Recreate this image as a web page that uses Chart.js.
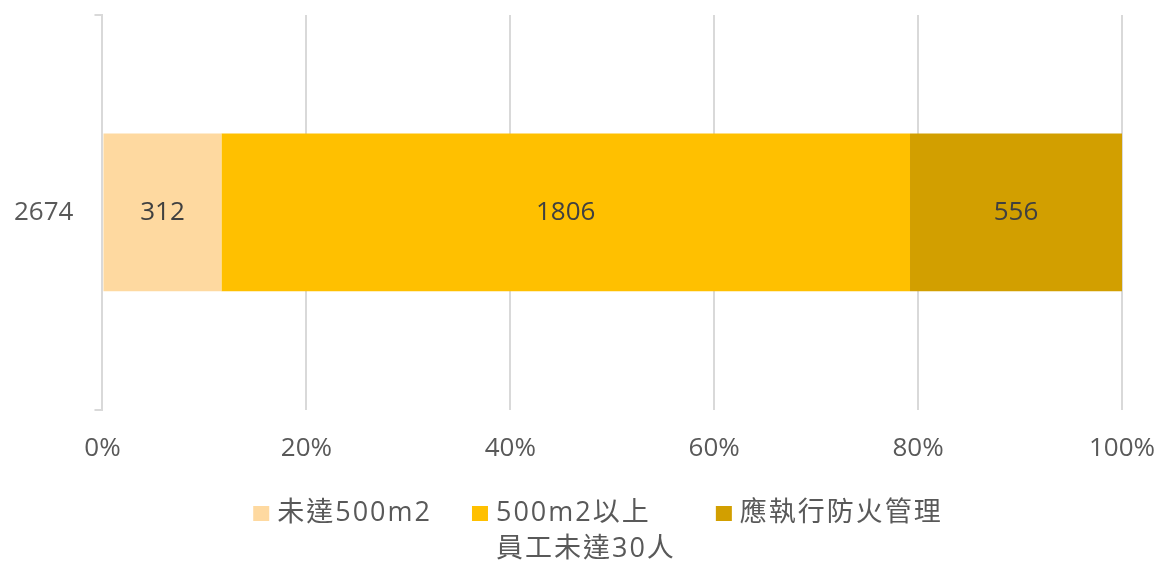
<!DOCTYPE html>
<html>
<head>
<meta charset="utf-8">
<script src="https://cdn.jsdelivr.net/npm/chart.js@4/dist/chart.umd.min.js"></script>
<style>
  html, body { margin: 0; padding: 0; background: #fff; }
  #wrap { width: 1159px; height: 564px; }
</style>
</head>
<body>
<div id="wrap"><canvas id="chart"></canvas></div>
<script>
// Chart data
const categories = ["2674"];
const seriesNames = ["未達500m2", ["500m2以上", "員工未達30人"], "應執行防火管理"];
const seriesValues = [[312], [1806], [556]];
const seriesColors = ["#FED9A0", "#FFC000", "#D29F00"];
const tickLabels = ["0%", "20%", "40%", "60%", "80%", "100%"];

const FONT = '"Open Sans", "Noto Sans CJK TC", sans-serif';
const GRID = "#D9D9D9";
const TEXT = "#595959";

// totals per category, for the 100% stacking
const totals = categories.map((c, i) => seriesValues.reduce((s, v) => s + v[i], 0));

// Draw the raw counts in the middle of each segment
const valueLabels = {
  id: "valueLabels",
  afterDatasetsDraw(chart) {
    const ctx = chart.ctx;
    ctx.save();
    ctx.font = "26px " + FONT;
    ctx.fillStyle = "#404040";
    ctx.textAlign = "center";
    ctx.textBaseline = "middle";
    chart.data.datasets.forEach((ds, di) => {
      chart.getDatasetMeta(di).data.forEach((bar, i) => {
        const p = bar.getCenterPoint();
        ctx.fillText(String(ds.raw[i]), p.x, p.y);
      });
    });
    ctx.restore();
  }
};

// Legend with multi-line labels, laid out in one row under the axis
const multiLegend = {
  id: "multiLegend",
  afterDraw(chart) {
    const ctx = chart.ctx;
    const box = 16, gap = 8, itemGap = 40, lineH = 36;
    const top = 513;
    ctx.save();
    ctx.font = "27px " + FONT;
    ctx.letterSpacing = "2px";
    ctx.textBaseline = "middle";
    ctx.textAlign = "left";
    const items = chart.data.datasets.map(ds => {
      const lines = Array.isArray(ds.label) ? ds.label : [ds.label];
      const w = Math.max(...lines.map(l => ctx.measureText(l).width));
      return { lines, color: ds.backgroundColor, w: box + gap + w };
    });
    const total = items.reduce((s, it) => s + it.w, 0) + itemGap * (items.length - 1);
    let x = chart.width * 0.516 - total / 2;
    items.forEach(it => {
      ctx.fillStyle = it.color;
      ctx.fillRect(x, top - 7, box, 15);
      ctx.fillStyle = TEXT;
      it.lines.forEach((l, k) => ctx.fillText(l, x + box + gap, top + k * lineH));
      x += it.w + itemGap;
    });
    ctx.restore();
  }
};

new Chart(document.getElementById("chart"), {
  type: "bar",
  data: {
    labels: categories,
    datasets: seriesNames.map((name, k) => ({
      label: name,
      raw: seriesValues[k],
      data: seriesValues[k].map((v, i) => v / totals[i] * 100),
      backgroundColor: seriesColors[k],
      borderWidth: 0,
      barPercentage: 1,
      categoryPercentage: 0.4
    }))
  },
  options: {
    indexAxis: "y",
    responsive: true,
    maintainAspectRatio: false,
    animation: false,
    layout: { padding: { left: -7, right: 37, top: 15, bottom: 77 } },
    scales: {
      x: {
        stacked: true,
        min: 0,
        max: 100,
        border: { display: false },
        grid: { color: GRID, lineWidth: 2, drawTicks: false },
        ticks: {
          stepSize: 20,
          padding: 23,
          color: TEXT,
          font: { family: FONT, size: 26 },
          callback: (v) => tickLabels[Math.round(v / 20)]
        },
        afterFit: (scale) => { scale.paddingLeft = 0; scale.paddingRight = 0; }
      },
      y: {
        stacked: true,
        offset: true,
        border: { display: true, color: GRID, width: 2 },
        grid: { offset: true, drawOnChartArea: false, color: GRID, lineWidth: 2, tickLength: 8 },
        ticks: {
          padding: 21,
          color: TEXT,
          font: { family: FONT, size: 26 }
        },
        // the label sits mid-bar, so no extra room is needed above or below
        afterFit: (scale) => { scale.paddingTop = 0; scale.paddingBottom = 0; }
      }
    },
    plugins: {
      legend: { display: false },
      tooltip: { enabled: false }
    }
  },
  plugins: [valueLabels, multiLegend]
});
</script>
</body>
</html>
